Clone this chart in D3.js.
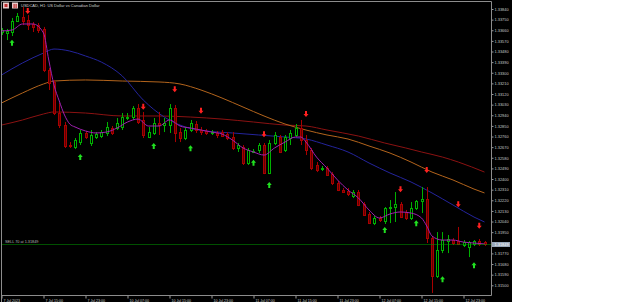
<!DOCTYPE html>
<html>
<head>
<meta charset="utf-8">
<script src="https://cdnjs.cloudflare.com/ajax/libs/d3/7.8.5/d3.min.js"></script>
<style>
body { margin: 0; background: #fff; }
text { font-family: "Liberation Sans", "DejaVu Sans", sans-serif; }
</style>
</head>
<body>
<svg id="chart" width="625" height="302"></svg>
<script>
// USDCAD H1 candles, bar 0 .. 92
const openP = [1.33645,1.33637,1.33645,1.33738,1.33772,1.33747,1.33713,1.33704,1.33671,1.33323,
  1.33222,1.32959,1.32857,1.32688,1.32671,1.32713,1.32790,1.32705,1.32756,1.32764,
  1.32790,1.32832,1.32832,1.32841,1.32917,1.32925,1.33001,1.32900,1.32756,1.32790,
  1.32874,1.32857,1.32857,1.33001,1.32798,1.32747,1.32815,1.32866,1.32815,1.32807,
  1.32790,1.32790,1.32798,1.32781,1.32756,1.32663,1.32671,1.32536,1.32629,1.32646,
  1.32688,1.32451,1.32705,1.32756,1.32646,1.32747,1.32773,1.32832,1.32730,1.32646,
  1.32519,1.32485,1.32493,1.32442,1.32366,1.32307,1.32298,1.32256,1.32290,1.32188,
  1.32104,1.32027,1.32070,1.32044,1.32154,1.32163,1.32188,1.32121,1.32070,1.32154,
  1.32214,1.32231,1.31900,1.31579,1.31799,1.31875,1.31883,1.31875,1.31841,1.31824,
  1.31850,1.31875,1.31866];
const highP = [1.33679,1.33671,1.33764,1.33806,1.33857,1.33789,1.33730,1.33721,1.33688,1.33340,
  1.33239,1.33044,1.32883,1.32713,1.32747,1.32815,1.32807,1.32815,1.32798,1.32815,
  1.32883,1.32849,1.32917,1.32959,1.32959,1.33018,1.33035,1.32968,1.32841,1.32917,
  1.32968,1.32917,1.33035,1.33027,1.32832,1.32841,1.32900,1.32891,1.32841,1.32824,
  1.32815,1.32807,1.32815,1.32798,1.32798,1.32705,1.32688,1.32663,1.32654,1.32705,
  1.32705,1.32730,1.32798,1.32773,1.32773,1.32815,1.32866,1.32900,1.32773,1.32663,
  1.32544,1.32510,1.32510,1.32459,1.32383,1.32324,1.32324,1.32307,1.32307,1.32205,
  1.32121,1.32087,1.32087,1.32163,1.32222,1.32290,1.32205,1.32138,1.32205,1.32222,
  1.32332,1.32332,1.31917,1.31951,1.31951,1.31926,1.31900,1.31994,1.31883,1.31875,
  1.31883,1.31892,1.31875];
const lowP = [1.33620,1.33577,1.33611,1.33730,1.33704,1.33662,1.33645,1.33637,1.33306,1.33154,
  1.32942,1.32832,1.32663,1.32663,1.32654,1.32688,1.32739,1.32680,1.32739,1.32747,
  1.32764,1.32773,1.32815,1.32815,1.32900,1.32900,1.32866,1.32747,1.32747,1.32773,
  1.32773,1.32798,1.32790,1.32713,1.32713,1.32730,1.32798,1.32790,1.32773,1.32773,
  1.32773,1.32747,1.32756,1.32730,1.32646,1.32629,1.32519,1.32519,1.32620,1.32620,
  1.32442,1.32442,1.32688,1.32620,1.32629,1.32688,1.32756,1.32688,1.32603,1.32476,
  1.32459,1.32468,1.32426,1.32349,1.32298,1.32282,1.32256,1.32239,1.32171,1.32087,
  1.32019,1.32010,1.32036,1.32019,1.32027,1.32036,1.32070,1.32053,1.32053,1.32138,
  1.32112,1.31858,1.31435,1.31562,1.31773,1.31773,1.31841,1.31841,1.31824,1.31739,
  1.31833,1.31833,1.31833];
const closeP = [1.33662,1.33654,1.33738,1.33781,1.33738,1.33704,1.33688,1.33662,1.33323,1.33213,
  1.32959,1.32857,1.32680,1.32680,1.32730,1.32790,1.32756,1.32773,1.32781,1.32798,
  1.32841,1.32790,1.32874,1.32925,1.32925,1.33001,1.32883,1.32773,1.32798,1.32874,
  1.32857,1.32874,1.33001,1.32790,1.32747,1.32815,1.32874,1.32815,1.32798,1.32790,
  1.32798,1.32773,1.32764,1.32747,1.32663,1.32688,1.32536,1.32646,1.32637,1.32688,
  1.32451,1.32705,1.32773,1.32629,1.32756,1.32790,1.32832,1.32730,1.32646,1.32493,
  1.32476,1.32493,1.32434,1.32366,1.32307,1.32290,1.32273,1.32290,1.32180,1.32095,
  1.32027,1.32070,1.32053,1.32154,1.32163,1.32188,1.32078,1.32070,1.32154,1.32214,
  1.32231,1.31900,1.31579,1.31799,1.31883,1.31892,1.31858,1.31850,1.31866,1.31866,
  1.31875,1.31850,1.31849];

// moving averages, read at sample bars
const fastBars = [0,2,4,6,8,9,10,11,12,13,14,16,18,20,22,24,26,28,30,32,34,36,38,40,42,44,46,48,50,52,54,56,57,58,60,62,64,66,68,70,72,74,76,78,80,81,82,84,86,88,90,92];
const fastVals = [1.33654,1.33662,1.33713,1.33713,1.33637,1.33408,1.33196,1.33061,1.32942,1.32866,
  1.32841,1.32807,1.32790,1.32798,1.32832,1.32883,1.32908,1.32849,1.32849,1.32900,
  1.32849,1.32832,1.32815,1.32798,1.32781,1.32730,1.32663,1.32629,1.32603,1.32663,
  1.32713,1.32756,1.32756,1.32713,1.32586,1.32493,1.32392,1.32307,1.32239,1.32138,
  1.32070,1.32104,1.32121,1.32112,1.32070,1.32002,1.31917,1.31883,1.31883,1.31866,
  1.31858,1.31850];
const midBars = [0,4,8,10,13,16,19,23,27,31,35,39,44,49,54,58,62,66,70,74,78,82,86,90,92];
const midVals = [1.33281,1.33383,1.33467,1.33501,1.33484,1.33442,1.33391,1.33273,1.33069,1.32925,
  1.32841,1.32807,1.32790,1.32773,1.32756,1.32739,1.32688,1.32629,1.32536,1.32451,
  1.32375,1.32282,1.32180,1.32078,1.32036];
const slowBars = [0,4,8,10,16,23,30,34,38,42,46,50,54,58,62,66,70,74,78,82,86,90,92];
const slowVals = [1.33044,1.33129,1.33205,1.33230,1.33239,1.33230,1.33222,1.33205,1.33154,1.33086,
  1.33010,1.32934,1.32866,1.32815,1.32773,1.32739,1.32680,1.32620,1.32544,1.32459,
  1.32392,1.32315,1.32282];
const longBars = [0,4,8,10,16,23,30,36,42,48,54,58,62,68,73,77,80,84,87,92];
const longVals = [1.32857,1.32900,1.32951,1.32968,1.32959,1.32934,1.32934,1.32925,1.32908,1.32883,
  1.32857,1.32849,1.32815,1.32764,1.32705,1.32663,1.32629,1.32586,1.32544,1.32459];

// signal arrows
const sellBars = [5,27,33,38,50,58,76,81,87,91];
const sellVals = [1.33823,1.33012,1.33160,1.32979,1.32779,1.32951,1.32313,1.32476,1.32186,1.32005];
const buyBars = [2,15,29,36,48,51,73,79,84,90];
const buyVals = [1.33555,1.32586,1.32680,1.32660,1.32538,1.32349,1.31968,1.32025,1.31551,1.31669];

const priceTicks = [1.33840,1.33750,1.33660,1.33570,1.33480,1.33390,1.33300,1.33210,1.33120,1.33030,
  1.32940,1.32850,1.32760,1.32670,1.32580,1.32490,1.32400,1.32310,1.32220,1.32130,
  1.32040,1.31950,1.31860,1.31770,1.31680,1.31590,1.31500];
const timeBars = [0,8,16,24,32,40,48,56,64,72,80,88];
const timeLabels = ["7 Jul 2023","7 Jul 15:00","7 Jul 23:00","10 Jul 07:00","10 Jul 15:00","10 Jul 23:00",
  "11 Jul 07:00","11 Jul 15:00","11 Jul 23:00","12 Jul 07:00","12 Jul 15:00","12 Jul 23:00"];
const lastPrice = 1.31849;

const svg = d3.select("#chart");
const plotL = 1.5, plotR = 491.5, plotT = 1.5, plotB = 295.5;

const x = d3.scaleLinear().domain([0, 92]).range([1.5, 484.5]);
const y = d3.scaleLinear().domain([1.31500, 1.33840]).range([285.3, 9]);
const px = i => Math.round(x(i));
const fmt = d3.format(".5f");

svg.append("rect").attr("width", 512).attr("height", 302).attr("fill", "#000");

// moving averages
const maLine = d3.line().x(d => x(d[0])).y(d => y(d[1])).curve(d3.curveMonotoneX);
const mas = [
  [longBars, longVals, "#8b1212"],
  [slowBars, slowVals, "#b3641c"],
  [midBars, midVals, "#24249c"],
];
mas.forEach(([b, v, c]) => {
  svg.append("path").datum(b.map((d, i) => [d, v[i]]))
    .attr("d", maLine).attr("fill", "none").attr("stroke", c).attr("stroke-width", 1);
});

// candles
const bull = "#00b000", bear = "#a80000";
const bars = d3.range(openP.length).map(i => ({i, o: openP[i], h: highP[i], l: lowP[i], c: closeP[i]}));
const candle = svg.append("g").selectAll("g").data(bars).enter().append("g");
candle.append("line")
  .attr("x1", d => px(d.i) + 0.5).attr("x2", d => px(d.i) + 0.5)
  .attr("y1", d => y(d.h)).attr("y2", d => y(d.l))
  .attr("stroke", d => d.c >= d.o ? bull : bear);
candle.append("rect")
  .attr("x", d => px(d.i) - 0.5)
  .attr("y", d => Math.round(y(Math.max(d.o, d.c))) + 0.5)
  .attr("width", 2)
  .attr("height", d => Math.max(0.01, Math.round(y(Math.min(d.o, d.c))) - Math.round(y(Math.max(d.o, d.c)))))
  .attr("fill", d => d.c >= d.o ? "#000" : "#600000")
  .attr("stroke", d => d.c >= d.o ? bull : bear);

// fast MA on top
svg.append("path").datum(fastBars.map((d, i) => [d, fastVals[i]]))
  .attr("d", maLine).attr("fill", "none").attr("stroke", "#a020b0").attr("stroke-width", 1);

// arrows
const downArrow = "M0,3 L-2.5,0 L-1,0 L-1,-3 L1,-3 L1,0 L2.5,0 Z";
const upArrow = "M0,-3 L-2.5,0 L-1,0 L-1,3 L1,3 L1,0 L2.5,0 Z";
svg.append("g").selectAll("path").data(sellBars).enter().append("path")
  .attr("d", downArrow).attr("fill", "#ff2020")
  .attr("transform", (d, i) => `translate(${x(d)},${y(sellVals[i])})`);
svg.append("g").selectAll("path").data(buyBars).enter().append("path")
  .attr("d", upArrow).attr("fill", "#20e020")
  .attr("transform", (d, i) => `translate(${x(d)},${y(buyVals[i])})`);

// order line
const yl = Math.round(y(lastPrice)) + 0.5;
svg.append("line").attr("x1", plotL).attr("x2", plotR).attr("y1", yl).attr("y2", yl)
  .attr("stroke", "#00a000").attr("stroke-dasharray", "1,1");
svg.append("text").attr("x", 5).attr("y", yl - 2).attr("font-size", 3.8).attr("fill", "#b4b4b4")
  .text("SELL 70 at 1.31849");

// axes (the 1.31860 label sits under the last-price box)
const yAxis = d3.axisRight(y).tickValues(priceTicks).tickSize(2)
  .tickFormat(d => Math.abs(d - lastPrice) < 0.00045 ? "" : fmt(d));
const gy = svg.append("g").attr("transform", `translate(${plotR},0)`).call(yAxis);
gy.select(".domain").remove();
gy.selectAll("line").attr("stroke", "#9a9a9a");
gy.selectAll("text").attr("x", 3).attr("font-size", 3.9).attr("fill", "#c8c8c8").attr("font-family", "Liberation Sans");

const xAxis = d3.axisBottom(x).tickValues(timeBars).tickSize(3).tickFormat((d, i) => timeLabels[i]);
const gx = svg.append("g").attr("transform", `translate(0,${plotB})`).call(xAxis);
gx.select(".domain").remove();
gx.selectAll("line").attr("stroke", "#9a9a9a");
gx.selectAll("text").attr("text-anchor", "start").attr("x", 1.5).attr("y", 4.2)
  .attr("dy", "0.71em").attr("font-size", 3.6).attr("fill", "#c8c8c8").attr("font-family", "Liberation Sans");

// frame
svg.append("path")
  .attr("d", `M${plotL},302 V${plotT} H${plotR} V${plotB} H${plotL}`)
  .attr("fill", "none").attr("stroke", "#8c8c8c");

// last price box
svg.append("rect").attr("x", plotR + 0.5).attr("y", yl - 2.5).attr("width", 18).attr("height", 5)
  .attr("fill", "#9aa8ba");
svg.append("text").attr("x", plotR + 3).attr("y", yl + 1.6).attr("font-size", 3.9).attr("fill", "#fff")
  .text(fmt(lastPrice));

// title + icons
svg.append("rect").attr("x", 3).attr("y", 2.5).attr("width", 6).attr("height", 6).attr("fill", "#e8c8c8");
svg.append("rect").attr("x", 4.5).attr("y", 4).attr("width", 3).attr("height", 3).attr("fill", "#c03030");
svg.append("rect").attr("x", 12).attr("y", 2.5).attr("width", 6).attr("height", 6).attr("fill", "#e8c8c8");
svg.append("rect").attr("x", 13.5).attr("y", 4).attr("width", 1.2).attr("height", 4).attr("fill", "#c03030");
svg.append("rect").attr("x", 15.5).attr("y", 4).attr("width", 1.2).attr("height", 4).attr("fill", "#c03030");
svg.append("text").attr("x", 21).attr("y", 7.3).attr("font-size", 4).attr("fill", "#d0d0d0")
  .text("USDCAD, H1:  US Dollar vs Canadian Dollar");
</script>
</body>
</html>
